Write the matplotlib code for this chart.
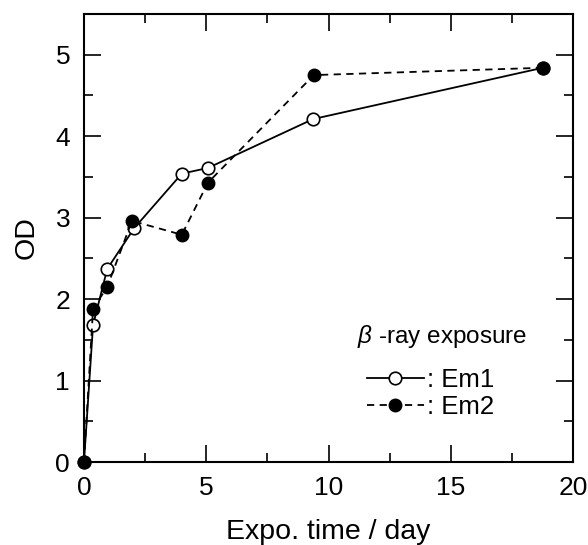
import matplotlib
matplotlib.use("Agg")
import matplotlib.pyplot as plt
from matplotlib.ticker import MultipleLocator

plt.rcParams['font.family'] = ['Liberation Sans', 'DejaVu Sans']
plt.rcParams['mathtext.fontset'] = 'custom'
plt.rcParams['mathtext.it'] = 'Liberation Sans:italic'
plt.rcParams['mathtext.rm'] = 'Liberation Sans'

# Data
t_em1 = [0, 0.37, 0.95, 2.05, 4.0, 5.07, 9.37, 18.77]
od_em1 = [0.0, 1.68, 2.37, 2.87, 3.54, 3.61, 4.21, 4.84]
t_em2 = [0, 0.37, 0.95, 1.96, 4.0, 5.07, 9.4, 18.77]
od_em2 = [0.0, 1.88, 2.15, 2.96, 2.79, 3.43, 4.75, 4.84]
labels = [': Em1', ': Em2']
legend_title = '$\\mathit{\\beta}$ -ray exposure'

fig = plt.figure(figsize=(5.88, 5.45), dpi=100)
ax = fig.add_axes([84/588, 1-462/545, (573-84)/588, (462-14)/545])

l1, = ax.plot(t_em1, od_em1, color='black', lw=1.3, ls='-', marker='o',
              ms=9, mfc='white', mec='black', mew=1.2, label=labels[0],
              zorder=3, clip_on=False)
l2, = ax.plot(t_em2, od_em2, color='black', lw=1.3, ls=(0, (4, 3)), marker='o',
              ms=9, mfc='black', mec='black', label=labels[1], zorder=4,
              clip_on=False)

ax.set_xlim(0, 20)
ax.set_ylim(0, 5.5)
ax.xaxis.set_major_locator(MultipleLocator(5))
ax.xaxis.set_minor_locator(MultipleLocator(2.5))
ax.yaxis.set_major_locator(MultipleLocator(1))
ax.yaxis.set_minor_locator(MultipleLocator(0.5))
ax.tick_params(which='both', direction='in', top=True, right=True, width=1.2,
               labelsize=19)
ax.tick_params(axis='x', pad=10)
ax.tick_params(axis='y', pad=10)
ax.tick_params(which='major', length=12)
ax.tick_params(which='minor', length=6.5)
for s in ax.spines.values():
    s.set_linewidth(1.5)

ax.set_xlabel('Expo. time / day', fontsize=20.5, labelpad=13.5)
ax.set_ylabel('OD', fontsize=20.5, labelpad=11)

ax.text((357-84)/489, (462-343)/448, legend_title, transform=ax.transAxes,
        fontsize=17.5, ha='left', va='baseline')

leg = ax.legend([l1, l2], labels, loc='upper left',
                bbox_to_anchor=((367-84)/489, (462-368)/448),
                frameon=False, fontsize=18.5, handlelength=2.2, handletextpad=0.15,
                labelspacing=0.1, borderaxespad=0, borderpad=0)

fig.savefig('out.png', dpi=100)
